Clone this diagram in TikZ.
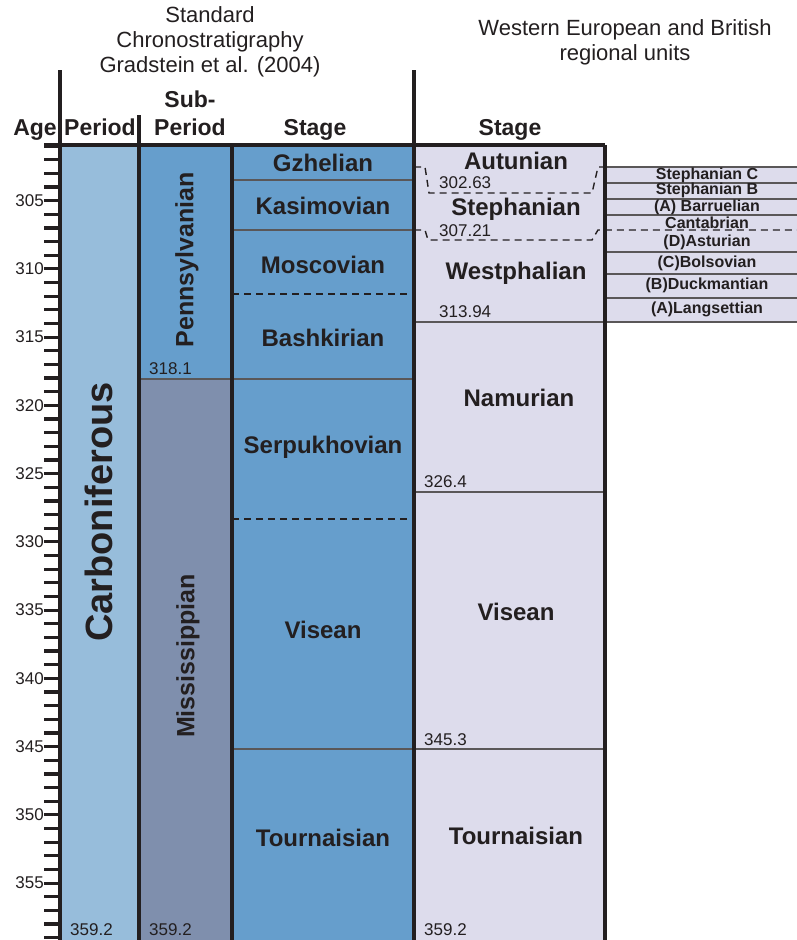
\documentclass[tikz,border=0pt]{standalone}
\usepackage{fontspec}
\setmainfont{Liberation Sans}
\usetikzlibrary{calc}
\definecolor{ink}{RGB}{35,31,32}
\definecolor{periodblue}{RGB}{151,189,219}
\definecolor{stageblue}{RGB}{102,158,204}
\definecolor{missblue}{RGB}{127,143,173}
\definecolor{regional}{RGB}{221,220,236}
\def\agey#1{146+(#1-301)*13.65}

\begin{document}
\begin{tikzpicture}[x=1pt,y=-1pt]
\tikzstyle{frame}=[line width=3.5pt, color=ink]
\tikzstyle{thinline}=[line width=1.2pt, color=ink!75]
\tikzstyle{bound}=[line width=1.4pt, color=ink, dash pattern=on 7pt off 5pt]
\tikzstyle{title}=[font=\fontsize{22}{25}\selectfont, text=ink, align=center]
\tikzstyle{head}=[font=\fontsize{23}{26}\selectfont\bfseries, text=ink, anchor=base]
\tikzstyle{stagename}=[font=\fontsize{24}{28}\selectfont\bfseries, text=ink]
\tikzstyle{substage}=[font=\fontsize{16}{18}\selectfont\bfseries, text=ink, inner sep=0pt]
\tikzstyle{num}=[font=\fontsize{17}{20}\selectfont, text=ink, anchor=west, inner sep=0pt]
\useasboundingbox (0,0) rectangle (797,940);

% Column fills
\fill[periodblue] (60,145) rectangle (139,940);
\fill[stageblue] (139,145) rectangle (232,379);
\fill[missblue] (139,379) rectangle (232,940);
\fill[stageblue] (232,145) rectangle (414,940);
\fill[regional] (414,145) rectangle (605,940);
\fill[regional] (605,167) rectangle (797,322);

% Titles
\node[title] (stdtitle) at (210,42) {Standard\\Chronostratigraphy\\Gradstein et al. (2004)};
\node[title] (regtitle) at (625,42) {Western European and British\\regional units};

% Headers
\node[head] (agehead) at (35,135) {Age};
\node[head] (periodhead) at (100,135) {Period};
\node[head] (subhead) at (190,107) {Sub-};
\node[head] (subperiodhead) at (190,135) {Period};
\node[head] (stagehead) at (315,135) {Stage};
\node[head] (reghead) at (510,135) {Stage};

% Age scale
\foreach \a in {301,...,359}
  \draw[line width=3.2pt, color=ink] (44,{\agey{\a}}) -- (60,{\agey{\a}});
\foreach \a in {305,310,...,355}
  \node[num, anchor=east] (age\a) at (44,{\agey{\a}}) {\a};

% Stage boundaries
\draw[thinline] (232,180) -- (414,180);
\draw[thinline] (232,230) -- (414,230);
\draw[bound] (232,294) -- (414,294);
\draw[thinline] (139,379) -- (414,379);
\draw[bound] (232,519) -- (414,519);
\draw[thinline] (232,749) -- (414,749);

% Regional boundaries
\draw[thinline] (414,322) -- (605,322);
\draw[thinline] (414,492) -- (605,492);
\draw[thinline] (414,749) -- (605,749);
\draw[bound] (414,167) -- (425,167) -- (429,193) -- (592,193) -- (598,167) -- (605,167);
\draw[bound] (414,230) -- (425,230) -- (428,240) -- (592,240) -- (598,230) -- (797,230);
\foreach \y in {167,183,199,215,252,274,298,322}
  \draw[thinline] (605,\y) -- (797,\y);

% Frame
\draw[frame] (44,145) -- (605,145);
\draw[frame] (60,70) -- (60,940);
\draw[frame] (139,115) -- (139,940);
\draw[frame] (232,145) -- (232,940);
\draw[frame] (414,70) -- (414,940);
\draw[frame] (605,145) -- (605,940);

% Period and sub-period
\node[font=\fontsize{38}{42}\selectfont\bfseries, text=ink, rotate=90] (carb) at (99,512) {Carboniferous};
\node[font=\fontsize{25}{28}\selectfont\bfseries, text=ink, rotate=90] (penn) at (187,260) {Pennsylvanian};
\node[font=\fontsize{25}{28}\selectfont\bfseries, text=ink, rotate=90] (miss) at (188,656) {Mississippian};
\node[num] (pennbase) at (149,369) {318.1};
\node[num] (periodbase) at (70,930) {359.2};
\node[num] (missbase) at (149,930) {359.2};

% Standard stages
\node[stagename] (gzhelian) at (323,163) {Gzhelian};
\node[stagename] (kasimovian) at (323,206) {Kasimovian};
\node[stagename] (moscovian) at (323,265) {Moscovian};
\node[stagename] (bashkirian) at (323,338) {Bashkirian};
\node[stagename] (serpukhovian) at (323,447) {Serpukhovian};
\node[stagename] (visean) at (323,630) {Visean};
\node[stagename] (tournaisian) at (323,838) {Tournaisian};

% Regional stages
\node[stagename] (autunian) at (516,161) {Autunian};
\node[stagename] (stephanian) at (516,209) {Stephanian};
\node[stagename] (westphalian) at (516,273) {Westphalian};
\node[stagename] (namurian) at (519,398) {Namurian};
\node[stagename] (regvisean) at (516,612) {Visean};
\node[stagename] (regtournaisian) at (516,836) {Tournaisian};
\node[num] (autbase) at (439,183) {302.63};
\node[num] (stebase) at (439,231) {307.21};
\node[num] (wesbase) at (439,312) {313.94};
\node[num] (nambase) at (424,482) {326.4};
\node[num] (visbase) at (424,740) {345.3};
\node[num] (tourbase) at (424,930) {359.2};

% British substages
\node[substage] (stc) at (707,175) {Stephanian C};
\node[substage] (stb) at (707,190) {Stephanian B};
\node[substage] (barruelian) at (707,207) {(A) Barruelian};
\node[substage] (cantabrian) at (707,223) {Cantabrian};
\node[substage] (asturian) at (707,242) {(D)Asturian};
\node[substage] (bolsovian) at (707,263) {(C)Bolsovian};
\node[substage] (duckmantian) at (707,285) {(B)Duckmantian};
\node[substage] (langsettian) at (707,309) {(A)Langsettian};

\end{tikzpicture}
\end{document}
